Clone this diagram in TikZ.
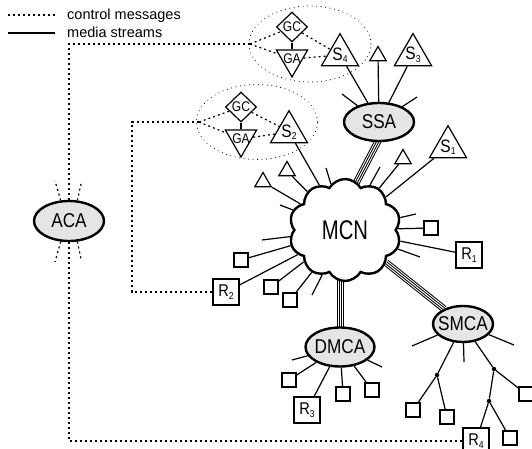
\documentclass[tikz,border=0pt]{standalone}
\usepackage{fontspec}
\setmainfont{Liberation Sans}
\newfontfamily\nfont{Liberation Sans}[FakeStretch=0.86]
\newfontfamily\mfont{Liberation Sans}[FakeStretch=0.75]
\usetikzlibrary{shapes.geometric,shapes.symbols}
\pgfdeclarelayer{bg}
\pgfsetlayers{bg,main}
\newcommand\subs[1]{\raisebox{-2.5pt}{\fontsize{10}{10}\selectfont #1}}
\begin{document}
\begin{tikzpicture}[x=1pt,y=-1pt,
  conn/.style={line width=1.2pt},
  ctrl/.style={line width=1.2pt, dash pattern=on 2pt off 3pt},
  agent/.style={ellipse, draw, line width=2.4pt, fill=black!10, inner sep=0pt, font=\nfont\fontsize{20}{20}\selectfont},
  tri/.style={regular polygon, regular polygon sides=3, draw, fill=white, line width=1.2pt, inner sep=0pt, minimum size=38pt, font=\nfont\fontsize{18}{18}\selectfont},
  stri/.style={tri, minimum size=19pt},
  itri/.style={tri, shape border rotate=180, minimum size=36pt, font=\nfont\fontsize{14}{14}\selectfont},
  dia/.style={diamond, draw, fill=white, line width=1.2pt, inner sep=0pt, minimum width=31pt, minimum height=30pt, font=\nfont\fontsize{14}{14}\selectfont},
  sq/.style={rectangle, draw, fill=white, line width=1.2pt, minimum size=14pt, inner sep=0pt},
  rbox/.style={sq, minimum size=26pt, font=\nfont\fontsize{17}{17}\selectfont},
  grp/.style={ellipse, draw, line width=1.1pt, dash pattern=on 0.01pt off 4.5pt, line cap=round, inner sep=0pt},
  band/.style={line width=7pt, draw=black, postaction={draw=white, line width=5pt}, postaction={draw=black, line width=3pt}, postaction={draw=white, line width=1pt}},
  dot/.style={circle, fill=black, inner sep=0pt, minimum size=4.5pt},
  lgd/.style={anchor=base west, inner sep=0pt, font=\fontsize{14.5}{14.5}\selectfont}
]
\useasboundingbox (0,0) rectangle (532,449);
\clip (0,0) rectangle (532,449);

% legend
\coordinate (l1a) at (8,15); \coordinate (l1b) at (55,15);
\coordinate (l2a) at (8,33); \coordinate (l2b) at (55,33);
\draw[ctrl] (l1a) -- (l1b);
\draw[conn] (l2a) -- (l2b);
\node[lgd] (lt1) at (67,20) {control messages};
\node[lgd] (lt2) at (67,38) {media streams};

% agents
\node[agent, minimum width=70pt, minimum height=40pt] (aca) at (69,221) {\makebox[0pt]{ACA}};
\node[agent, minimum width=70pt, minimum height=38pt] (ssa) at (379,122) {\makebox[0pt]{SSA}};
\node[agent, minimum width=69pt, minimum height=39pt] (dmca) at (340,347) {\makebox[0pt]{DMCA}};
\node[agent, minimum width=60pt, minimum height=36pt] (smca) at (463,324) {\makebox[0pt]{SMCA}};
\node[cloud, draw, line width=2.4pt, fill=white, cloud puffs=10, cloud puff arc=120, aspect=1.1,
      minimum width=112pt, minimum height=102pt, inner sep=0pt, font=\mfont\fontsize{27}{27}\selectfont]
      (mcn) at (345,230) {\makebox[0pt]{MCN}};

% top group
\node[grp, minimum width=122pt, minimum height=76pt] (g1) at (310,44) {};
\node[dia] (gc1) at (292,27) {GC};
\node[itri] (ga1) at (292,59) {\makebox[0pt]{GA}};
\node[tri] (s4) at (340,55) {\makebox[0pt]{S\subs{4}}};
\node[stri] (t1) at (378,56) {};
\node[tri] (s3) at (413,55) {\makebox[0pt]{S\subs{3}}};
\coordinate (j1) at (250,44);

% lower group
\node[grp, minimum width=121pt, minimum height=75pt] (g2) at (257,122) {};
\node[dia] (gc2) at (241,107) {GC};
\node[itri] (ga2) at (241,139) {\makebox[0pt]{GA}};
\node[tri] (s2) at (289,132) {\makebox[0pt]{S\subs{2}}};
\coordinate (j2) at (199,122);
\coordinate (c2) at (132,122);

% around MCN
\node[stri] (t2) at (403,159) {};
\node[stri] (t3) at (287,171) {};
\node[stri] (t4) at (263,182) {};
\node[tri] (s1) at (448,147) {\makebox[0pt]{S\subs{1}}};
\node[sq] (q1) at (241,260) {};
\node[sq] (q2) at (271,287) {};
\node[sq] (q3) at (290,300) {};
\node[sq] (q4) at (431,228) {};
\node[rbox] (r1) at (469,255) {R\subs{1}};
\node[rbox] (r2) at (226,292) {R\subs{2}};

% around DMCA
\node[sq] (q5) at (289,380) {};
\node[sq] (q6) at (343,394) {};
\node[sq] (q7) at (372,390) {};
\node[rbox] (r3) at (307,410) {R\subs{3}};

% around SMCA
\node[dot] (d1) at (437,375) {};
\node[dot] (d2) at (494,369) {};
\node[dot] (d3) at (489,401) {};
\node[sq] (q8) at (413,410) {};
\node[sq] (q9) at (447,417) {};
\node[sq] (q10) at (526,394) {};
\node[sq] (q11) at (510,438) {};
\node[rbox] (r4) at (476,441) {R\subs{4}};

% stub ends
\coordinate (e1) at (326,168); \coordinate (e2) at (380,167); \coordinate (e3) at (416,214);
\coordinate (e4) at (420,257); \coordinate (e5) at (312,295); \coordinate (e6) at (280,205);
\coordinate (e7) at (262,240);
\coordinate (e8) at (342,94); \coordinate (e9) at (417,97);
\coordinate (e10) at (292,360); \coordinate (e11) at (382,367);
\coordinate (e12) at (412,346); \coordinate (e13) at (464,362); \coordinate (e14) at (514,345);
\coordinate (a1) at (55,262); \coordinate (a2) at (81,259);
\coordinate (a3) at (55,181); \coordinate (a4) at (81,184);

\begin{pgfonlayer}{bg}
  % media streams
  \draw[band] ([xshift=9pt]ssa.center) -- ([xshift=-13.5pt]mcn.center);
  \draw[band] (dmca.center) -- (dmca.center |- mcn.center);
  \draw[band] (smca) -- (mcn);
  \foreach \n in {s4,t1,s3,e8,e9} \draw[conn] (ssa) -- (\n);
  \foreach \n in {s2,t2,t3,t4,s1,q1,q2,q3,q4,r1,r2,e1,e2,e3,e4,e5,e6,e7} \draw[conn] (mcn) -- (\n);
  \foreach \n in {q5,q6,q7,r3,e10,e11} \draw[conn] (dmca) -- (\n);
  \foreach \n in {d1,d2,e12,e13,e14} \draw[conn] (smca) -- (\n);
  \draw[conn] (d1) -- (q8);
  \draw[conn] (d1) -- (q9);
  \draw[conn] (d2) -- (q10);
  \draw[conn] (d2) -- (d3);
  \draw[conn] (d3) -- (r4);
  \draw[conn] (d3) -- (q11);
  % control messages
  \draw[ctrl] (aca.north) |- (j1);
  \draw[ctrl] (j1) -- (gc1);
  \draw[ctrl] (j1) -- (ga1);
  \draw[ctrl] (gc1) -- (s4.150);
  \draw[ctrl] (ga1) -- (s4);
  \draw[ctrl] (r2.west) -| (c2) -- (j2);
  \draw[ctrl] (j2) -- (gc2);
  \draw[ctrl] (j2) -- (ga2);
  \draw[ctrl] (gc2) -- (s2.150);
  \draw[ctrl] (ga2) -- (s2);
  \draw[ctrl] (aca.south) |- (r4.west);
  \draw[ctrl] (aca.-112) -- (a1);
  \draw[ctrl] (aca.-68) -- (a2);
  \draw[ctrl] (aca.112) -- (a3);
  \draw[ctrl] (aca.68) -- (a4);
  \draw[conn] (gc1) -- (ga1);
  \draw[conn] (gc2) -- (ga2);
\end{pgfonlayer}
\end{tikzpicture}
\end{document}
